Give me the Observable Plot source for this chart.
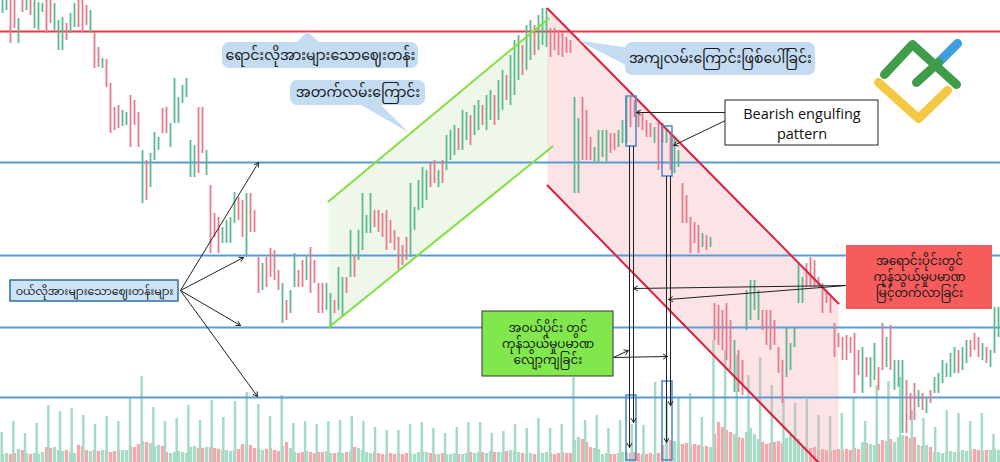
<!DOCTYPE html>
<html><head><meta charset="utf-8">
<script src="https://cdn.jsdelivr.net/npm/d3@7"></script>
<script src="https://cdn.jsdelivr.net/npm/@observablehq/plot@0.6"></script>
<style>
body{margin:0;background:#fff;}
#chart{position:relative;width:1000px;height:462px;overflow:hidden;background:#fff;}
#chart svg{position:absolute;left:0;top:0;}
</style></head><body><div id="chart"></div>
<script>
// ---- price data (one entry per candle) ----
const high = [467,470,465,462,444,468,466,464,462,460,
459,467,462,459,442,445,439,449,459,464,
462,457,452,430,415,404,403,379,355,357,
352,350,367,362,350,312,302,309,330,325,
354,355,339,384,365,377,384,322,317,355,
355,312,277,249,245,235,242,245,270,265,
262,269,269,252,205,199,205,214,212,192,
179,162,172,209,192,202,207,215,202,179,
179,179,169,162,195,185,185,232,207,232,
269,247,269,252,252,249,252,242,232,225,
217,225,279,255,282,295,292,299,302,292,
302,327,332,337,334,352,350,347,357,362,
357,367,372,367,382,392,387,407,422,427,
417,437,442,437,447,454,454,434,434,432,
430,425,422,365,344,365,352,325,315,332,
332,332,329,329,332,342,365,365,362,352,
349,342,339,335,339,339,332,329,325,312,
279,267,245,240,237,229,227,225,159,157,
152,159,142,122,112,102,172,182,182,172,
152,152,152,142,115,102,135,119,135,199,
185,199,205,202,185,179,172,165,139,129,
125,127,125,129,112,115,105,105,119,95,
139,125,137,102,102,102,82,69,79,72,
69,65,72,85,89,102,99,109,115,112,
115,122,122,129,125,119,115,112,155,155];
const low = [449,452,419,434,419,450,452,447,434,432,
450,429,439,432,412,412,422,429,435,435,
429,437,429,394,395,394,375,329,332,334,
336,337,315,337,315,259,262,275,302,312,
329,329,315,339,339,359,365,285,285,289,
309,287,209,225,209,219,219,219,239,242,
225,205,230,230,169,172,175,185,182,172,
139,142,149,175,175,175,182,169,179,149,
149,152,135,149,152,145,169,185,185,202,
212,229,229,235,230,225,212,219,212,192,
197,202,205,232,252,254,262,275,279,275,
279,292,302,307,312,312,322,317,327,332,
337,332,342,337,342,352,362,357,367,382,
387,392,402,407,412,417,415,405,412,407,
405,409,409,269,269,302,302,302,299,299,
305,299,309,312,315,319,319,335,345,335,
332,325,325,319,292,319,319,292,289,295,
239,239,209,219,209,215,212,215,122,117,
112,102,92,70,70,67,132,142,152,142,
132,117,112,117,89,59,85,92,115,159,
159,175,175,175,175,149,159,149,105,115,
102,102,109,69,87,69,85,75,82,72,
92,95,92,72,75,29,29,42,42,55,
52,49,59,69,69,79,85,85,89,89,
92,99,105,112,105,102,99,95,109,125];
// u = bullish, d = bearish
const direction = ("uuddududuu"+"udduuuduud"+"dduddudddd"+"uuddduduuu"+"dduuuuuuud"+
"duddduuuud"+"dudddudddd"+"uduudduddd"+"duuduududu"+"uuuddddddd"+
"dduuuuuddu"+"duuuduuduu"+"duuduuduuu"+"duuduuuddd"+"ddduuddduu"+
"uudduuuddd"+"dddudduduu"+"dddddududd"+"dddudduuuu"+"dddddduuuu"+
"uddddddddd"+"ddddduduud"+"duduuudddu"+"duduuuuuud"+"uuddduduuu").split("");
// ---- volume ----
const volume = [8,9,8,9,13,12,9,8,9,8,10,15,14,15,12,11,12,10,9,17,16,12,11,12,11,12,11,10,11,12,12,12,16,15,18,21,20,19,16,17,16,10,9,10,11,10,9,15,16,14,14,15,15,14,13,12,12,11,12,13,18,19,17,14,13,12,13,14,12,11,16,20,14,10,9,10,11,10,9,10,10,11,9,9,10,9,10,11,15,14,12,10,9,10,9,8,8,9,8,9,8,9,8,8,10,11,10,9,8,8,9,8,8,9,8,8,9,10,9,10,10,9,11,10,10,10,11,12,11,10,9,8,9,8,9,9,10,9,8,9,10,9,9,22,25,23,20,15,14,13,8,9,8,8,9,10,10,9,10,9,8,8,9,8,9,17,18,22,21,20,18,19,17,18,17,15,16,15,28,40,35,32,30,28,25,24,30,34,28,23,20,18,19,20,21,19,24,27,25,23,15,16,14,15,12,13,12,11,12,13,12,13,12,14,13,20,19,18,17,18,22,21,23,20,25,27,26,24,25,17,16,17,15,10,10,9,10,11,10,10,12,11,12,13,12,11,12,12,13,12];
const volumeSpikes = [30,41,29,39,57,51,54,47,38,46,41,64,86,55,41,44,57,42,62,45,61,70,58,46,67,39,41,38,41,42,46,41,35,32,32,38,40,34,29,35,40,40,29,31,38,34,44,34,38,85,42,47,34,42,38,37,80,60,64,69,45,122,112,107,87,105,77,63,59,63,47,46,49,65,41,77,81,85,52,44,35,52,49,41,49,28];
// ---- levels ----
const resistanceLevels = [431];
const supportLevels = [300, 207, 135, 65];
// ---- channels (candle index, price) ----
const upChannelFill = [{i:81.5,p:261},{i:136.5,p:444},{i:136.5,p:313},{i:81.5,p:135}];
const upChannelLines = [{id:"u",i:81.5,p:261},{id:"u",i:136.5,p:444},{id:"l",i:81.5,p:135},{id:"l",i:137.5,p:316}];
const downChannelFill = [{i:136.25,p:454},{i:209,p:159},{i:209,p:0},{i:204,p:0},{i:136.25,p:277}];
const downChannelLines = [{id:"u",i:136.25,p:454},{id:"u",i:209,p:159},{id:"l",i:136.25,p:277},{id:"l",i:204,p:0}];
// ---- annotations ----
const callouts = [
  {text:"ရောင်းလိုအားများသောဈေးတန်း", i1:55, i2:104, p1:394, p2:420},
  {text:"အတက်လမ်းကြောင်း", i1:72, i2:105.75, p1:357, p2:382},
  {text:"အကျလမ်းကြောင်းဖြစ်ပေါ်ခြင်း", i1:155.75, i2:203.25, p1:387, p2:420}
];
const calloutTails = [
  {id:0,i:73.25,p:419},{id:0,i:79.5,p:419},{id:0,i:76.25,p:431},
  {id:1,i:89.5,p:358},{id:1,i:94.5,p:358},{id:1,i:101.5,p:330},
  {id:2,i:156,p:415},{id:2,i:156,p:397},{id:2,i:144,p:422}
];
const supportLabel = [{text:"ဝယ်လိုအားများသောဈေးတန်းများ", i1:2, i2:44, p1:161, p2:182}];
const supportArrows = [
  {i1:44.5,p1:172,i2:64,p2:300},{i1:44.5,p1:172,i2:60.25,p2:205},
  {i1:44.5,p1:172,i2:59.5,p2:137},{i1:44.5,p1:172,i2:63.75,p2:66}
];
const engulfLabel = [{text:"Bearish engulfing\npattern", i1:180.75, i2:219, p1:317, p2:362}];
const engulfArrows = [{i1:180.75,p1:350,i2:158.5,p2:350},{i1:180.75,p1:342,i2:167.75,p2:317}];
const highlightBoxes = [
  {i1:156,i2:158.5,p1:316,p2:366},{i1:165,i2:167.5,p1:286,p2:336},
  {i1:156,i2:158.5,p1:2,p2:67},{i1:165,i2:167.5,p1:2,p2:81}
];
const dropArrows = [
  {i1:156.75,p1:316,i2:156.75,p2:15},{i1:157.75,p1:316,i2:157.75,p2:40},
  {i1:166,p1:286,i2:166,p2:20},{i1:167,p1:286,i2:167,p2:57}
];
const volumeDown = [{lines:["အဝယ်ပိုင်း တွင်","ကုန်သွယ်မှုပမာဏ","လျော့ကျခြင်း"], i1:120, i2:152.75, p1:86, p2:151}];
const volumeDownArrows = [{i1:152.75,p1:105,i2:156.5,p2:112},{i1:152.75,p1:105,i2:166.25,p2:106}];
const volumeUp = [{lines:["အရောင်းပိုင်းတွင်","ကုန်သွယ်မှုပမာဏ","မြင့်တက်လာခြင်း"], i1:211, i2:247.5, p1:153, p2:217}];
const volumeUpArrows = [{i1:211,p1:177,i2:157.75,p2:174},{i1:211,p1:177,i2:166.5,p2:163}];
const logo = [
  {part:"y",i:219,p:380},{part:"y",i:229,p:344},{part:"y",i:236.25,p:372},
  {part:"b",i:234,p:400},{part:"b",i:238.75,p:419},
  {part:"g2",i:228.5,p:380},{part:"g2",i:234,p:400},
  {part:"g1",i:220.5,p:388},{part:"g1",i:227.5,p:418},{part:"g1",i:238.5,p:378}
];
const logoColors = {y:"#f4c842", b:"#3d9fe0", g1:"#3f9c49", g2:"#3f9c49"};

const candles = high.map((h, i) => ({i, high: h, low: low[i], dir: direction[i], vol: volume[i]}));
const spikes = volumeSpikes.map((v, k) => ({k, v}));
// split multi-line box texts into separate lines placed inside their box
const boxLines = (boxes) => boxes.flatMap(b => b.lines.map((t, j) => ({
  t, x: (b.i1 + b.i2) / 2,
  y: b.p2 - (b.p2 - b.p1) * (j + 1) / (b.lines.length + 1)
})));

const MY = "'Noto Sans Myanmar','Myanmar Text',Padauk,'Noto Sans',sans-serif";
const UP = "#5cb98f", DOWN = "#e8798a";
const base = {
  width: 1000, height: 462, margin: 0,
  x: {domain: [-0.5, 249.5], axis: null},
  y: {domain: [0, 462], axis: null},
  color: {type: "identity"},
  style: {background: "transparent", overflow: "hidden"}
};
const chart = document.getElementById("chart");

chart.append(Plot.plot({...base, marks: [
  Plot.ruleX(candles, {x: "i", y1: 0, y2: "vol", stroke: d => d.dir === "u" ? "#a9dcc7" : "#f8a6ac", strokeWidth: 3.3})
]}));
chart.append(Plot.plot({...base, x: {domain: [-0.1, 85.6], axis: null}, marks: [
  Plot.ruleX(spikes, {x: "k", y1: 0, y2: "v", stroke: "#a6dac5", strokeWidth: 2.5})
]}));

const a = (data, o = {}) => Plot.arrow(data, {x1: "i1", y1: "p1", x2: "i2", y2: "p2", stroke: "#222", strokeWidth: 1, headLength: 7, ...o});
chart.append(Plot.plot({...base, marks: [
  Plot.line(upChannelFill, {x: "i", y: "p", fill: "#a8d88f", fillOpacity: 0.2, stroke: "none"}),
  Plot.line(downChannelFill, {x: "i", y: "p", fill: "#f4a7b2", fillOpacity: 0.32, stroke: "none"}),
  Plot.ruleY(supportLevels, {stroke: "#5b9bd5", strokeWidth: 2}),
  Plot.ruleY(resistanceLevels, {stroke: "#e5394d", strokeWidth: 2}),
  Plot.ruleX(candles, {x: "i", y1: "low", y2: "high", stroke: d => d.dir === "u" ? UP : DOWN, strokeWidth: 1.8}),
  Plot.line(upChannelLines, {x: "i", y: "p", z: "id", stroke: "#80e040", strokeWidth: 2}),
  Plot.line(downChannelLines, {x: "i", y: "p", z: "id", stroke: "#d9223f", strokeWidth: 2}),
  // callouts
  Plot.line(calloutTails, {x: "i", y: "p", z: "id", fill: "#c3dcf2", stroke: "none"}),
  Plot.rect(callouts, {x1: "i1", x2: "i2", y1: "p1", y2: "p2", fill: "#c3dcf2", rx: 7}),
  Plot.text(callouts, {x: d => (d.i1 + d.i2) / 2, y: d => (d.p1 + d.p2) / 2, text: "text", fontSize: 14, fontFamily: MY, fill: "#1a1a1a"}),
  // support label
  a(supportArrows),
  Plot.rect(supportLabel, {x1: "i1", x2: "i2", y1: "p1", y2: "p2", fill: "#cde3f6", stroke: "#2f6f9f", strokeWidth: 1.5}),
  Plot.text(supportLabel, {x: d => (d.i1 + d.i2) / 2, y: d => (d.p1 + d.p2) / 2, text: "text", fontSize: 11, fontFamily: MY, fill: "#1a1a1a"}),
  // engulfing
  Plot.rect(highlightBoxes, {x1: "i1", x2: "i2", y1: "p1", y2: "p2", fill: "none", stroke: "#4a86c8", strokeWidth: 1.5}),
  a(dropArrows),
  a(engulfArrows),
  Plot.rect(engulfLabel, {x1: "i1", x2: "i2", y1: "p1", y2: "p2", fill: "white", stroke: "#222", strokeWidth: 1}),
  Plot.text(engulfLabel, {x: d => (d.i1 + d.i2) / 2, y: d => (d.p1 + d.p2) / 2, text: "text", fontSize: 14.5, lineHeight: 1.35, fontFamily: "'Open Sans',sans-serif", fill: "#111"}),
  // volume boxes
  a(volumeDownArrows),
  Plot.rect(volumeDown, {x1: "i1", x2: "i2", y1: "p1", y2: "p2", fill: "#80e84c", stroke: "#333", strokeWidth: 1}),
  Plot.text(boxLines(volumeDown), {x: "x", y: "y", text: "t", fontSize: 12, fontFamily: MY, fill: "#1a1a1a"}),
  a(volumeUpArrows),
  Plot.rect(volumeUp, {x1: "i1", x2: "i2", y1: "p1", y2: "p2", fill: "#f65c5c"}),
  Plot.text(boxLines(volumeUp), {x: "x", y: "y", text: "t", fontSize: 12, fontFamily: MY, fill: "#1a1a1a"}),
  // logo
  Plot.line(logo, {x: "i", y: "p", z: "part", stroke: d => logoColors[d.part], strokeWidth: 9, strokeLinecap: "round", strokeLinejoin: "round"})
]}));
</script></body></html>
